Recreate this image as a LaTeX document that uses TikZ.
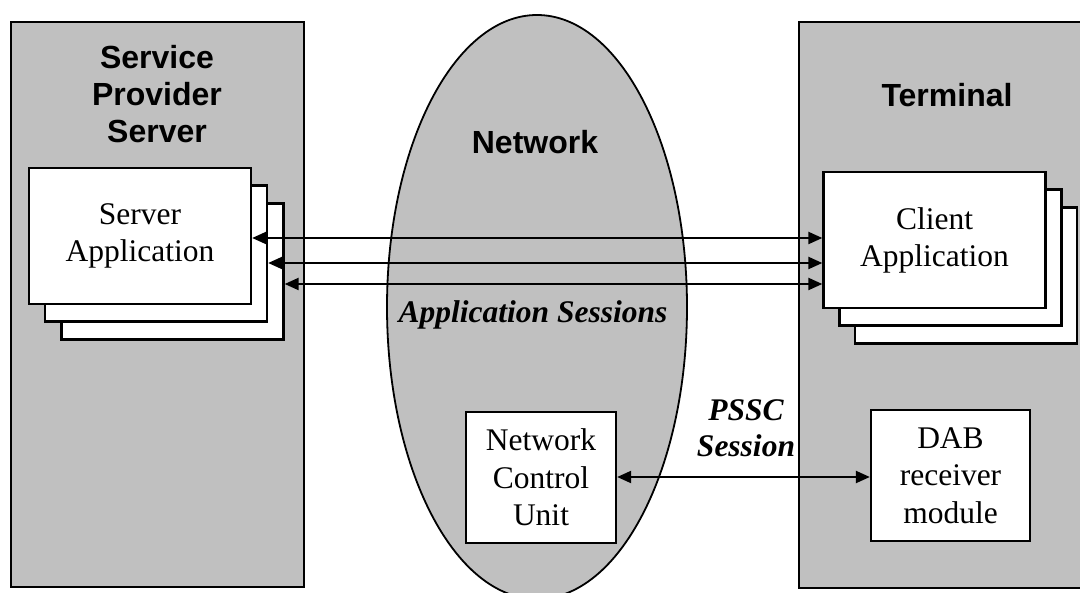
\documentclass[tikz,border=0pt]{standalone}
\usepackage{fontspec}
\setmainfont{Liberation Serif}
\newfontfamily\hdfont{Liberation Sans}
\usetikzlibrary{arrows.meta,shapes.geometric}
\definecolor{panelgray}{RGB}{192,192,192}
\begin{document}
\begin{tikzpicture}[x=1pt,y=-1pt,
  panel/.style={draw=black, line width=2.8pt, fill=panelgray, inner sep=0pt},
  cloud/.style={draw=black, line width=1.8pt, fill=panelgray, ellipse, inner sep=0pt, minimum width=300pt, minimum height=584pt},
  appbox/.style={draw=black, line width=2.3pt, fill=white, inner sep=0pt, minimum width=222pt, minimum height=136pt, align=center, font=\fontsize{31.5}{37}\selectfont},
  unitbox/.style={draw=black, line width=2.3pt, fill=white, inner sep=0pt, minimum height=131pt, align=center, font=\fontsize{31.5}{37.5}\selectfont},
  arr/.style={{Triangle[length=14pt,width=12pt]}-{Triangle[length=14pt,width=12pt]}, line width=2.2pt},
  hd/.style={font=\hdfont\bfseries\fontsize{32}{37}\selectfont, align=center, inner sep=0pt},
  bit/.style={font=\bfseries\itshape\fontsize{31.5}{35.5}\selectfont, align=center, inner sep=0pt}
]
\useasboundingbox (0,0) rectangle (1080,593);
\clip (0,0) rectangle (1080,593);

% panels and network
\node[panel, minimum width=293pt, minimum height=565pt] (sps) at (157.5,304.5) {};
\node[panel, minimum width=291pt, minimum height=566pt] (term) at (944.5,305) {};
\node[cloud] (net) at (537,307) {};

% headings
\node[hd] (spslabel) at (157,94) {Service\\Provider\\Server};
\node[hd] (netlabel) at (535,142) {Network};
\node[hd] (termlabel) at (947,95) {Terminal};

% server application stack
\node[appbox] (sa3) at (172.5,271.5) {};
\node[appbox] (sa2) at (156,253.5) {};
\node[appbox] (sa1) at (140,236) {Server\\Application};

% client application stack
\node[appbox] (ca3) at (966,275.5) {};
\node[appbox] (ca2) at (950.5,257.5) {};
\node[appbox] (ca1) at (934.5,240) {Client\\Application};

% units
\node[unitbox, minimum width=150pt] (ncu) at (541,477.5) {Network\\Control\\Unit};
\node[unitbox, minimum width=159pt] (dab) at (950.5,475.5) {DAB\\receiver\\module};

% application session arrows
\draw[arr] (sa1.east |- 0,238) -- (ca1.west |- 0,238);
\draw[arr] (sa2.east |- 0,263) -- (ca1.west |- 0,263);
\draw[arr] (sa3.east |- 0,284) -- (ca1.west |- 0,284);
\draw[arr] (ncu.east |- 0,477) -- (dab.west |- 0,477);

% labels
\node[bit] (appsess) at (533,315) {Application Sessions};
\node[bit] (pssc) at (746,428) {PSSC\\Session};
\end{tikzpicture}
\end{document}
